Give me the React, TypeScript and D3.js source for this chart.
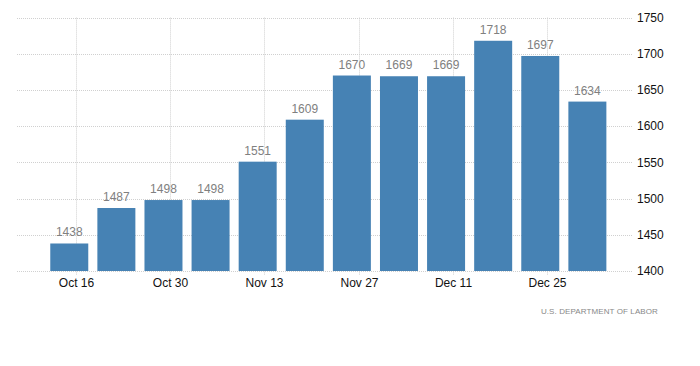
import React from "react";
import * as d3 from "d3";

const barDates = ["2017-10-15","2017-10-22","2017-10-29","2017-11-05","2017-11-12","2017-11-19","2017-11-26","2017-12-03","2017-12-10","2017-12-17","2017-12-24","2017-12-31"];
const barValues = [1438, 1487, 1498, 1498, 1551, 1609, 1670, 1669, 1669, 1718, 1697, 1634];
const xTickDates = ["2017-10-16","2017-10-30","2017-11-13","2017-11-27","2017-12-11","2017-12-25"];
const xTickLabels = ["Oct 16","Oct 30","Nov 13","Nov 27","Dec 11","Dec 25"];
const yTicks = [1400, 1450, 1500, 1550, 1600, 1650, 1700, 1750];
const sourceText = "U.S. DEPARTMENT OF LABOR";

const W = 700, H = 366;
const FONT = "'Liberation Sans', Arial, sans-serif";

export default function App() {
  const parse = (s: string) => new Date(s + "T00:00:00Z");
  const x = d3.scaleUtc().domain([parse("2017-10-16"), parse("2017-12-25")]).range([76, 547]);
  const y = d3.scaleLinear().domain([1400, 1750]).range([271, 17.6]);
  const left = 17, right = 633;
  const bw = 38;
  return (
    <svg width={W} height={H} style={{ position: "absolute", left: 0, top: 0, display: "block", background: "#fff" }}>
      {yTicks.map((t) => (
        <g key={"y" + t}>
          <line x1={left} x2={right} y1={Math.round(y(t)) + 0.5} y2={Math.round(y(t)) + 0.5} stroke="#d0d0d0" strokeDasharray="1,1" />
          <text x={637} y={y(t)} dy="0.35em" fontSize={12} fontFamily={FONT} fill="#111">{t}</text>
        </g>
      ))}
      {xTickDates.map((d, i) => {
        const px = Math.round(x(parse(d))) + 0.5;
        return (
          <g key={"x" + d}>
            <line x1={px} x2={px} y1={y(1750)} y2={275} stroke="#d0d0d0" strokeDasharray="1,1" />
            <text x={px} y={287} textAnchor="middle" fontSize={12} fontFamily={FONT} fill="#111">{xTickLabels[i]}</text>
          </g>
        );
      })}
      {barValues.map((v, i) => {
        const cx = x(parse(barDates[i]));
        return (
          <g key={"b" + i}>
            <rect x={cx - bw / 2} y={y(v)} width={bw} height={y(1400) - y(v)} fill="#4682b4" />
            <text x={cx} y={y(v) - 7} textAnchor="middle" fontSize={12} fontFamily={FONT} fill="#808080">{v}</text>
          </g>
        );
      })}
      <text x={658} y={314} textAnchor="end" fontSize={8} letterSpacing={0.1} fontFamily={FONT} fill="#888">{sourceText}</text>
    </svg>
  );
}
